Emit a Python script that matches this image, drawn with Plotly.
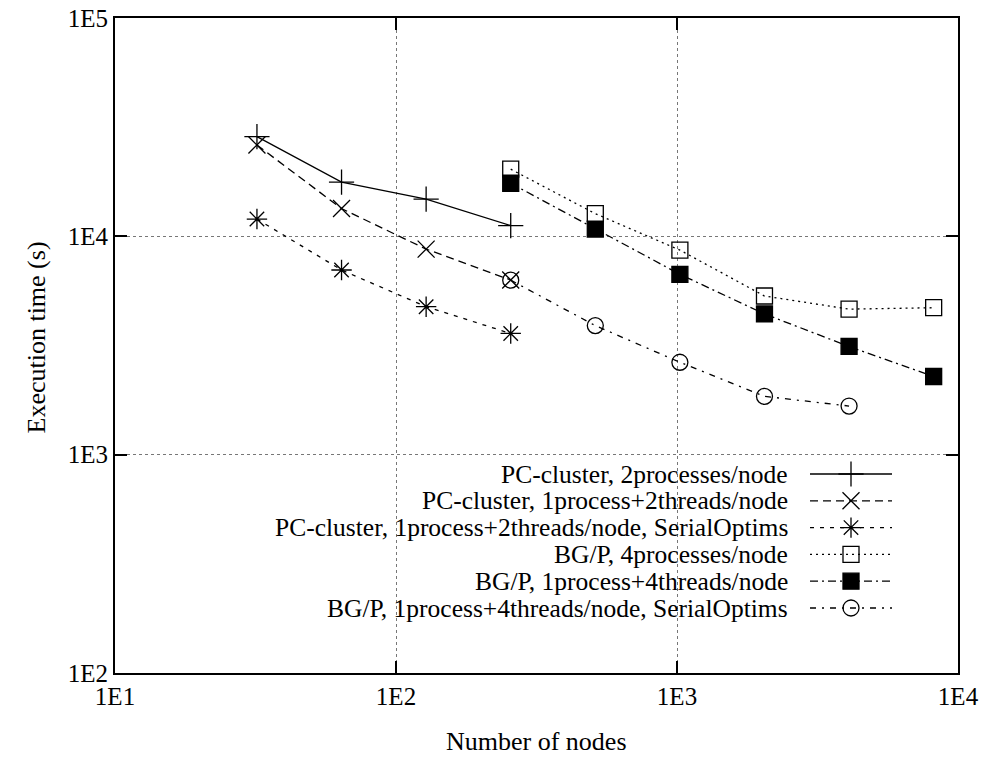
import plotly.graph_objects as go

# ---- data ----
pc_nodes = [32, 64, 128, 256]
bgp_nodes = [256, 512, 1024, 2048, 4096, 8192]
bgp_nodes_opt = [256, 512, 1024, 2048, 4096]

pc_2proc = [28600, 17700, 14800, 11200]
pc_1p2t = [26200, 13400, 8740, 6310]
pc_1p2t_opt = [12000, 7010, 4760, 3590]
bgp_4proc = [20300, 12700, 8650, 5330, 4640, 4710]
bgp_1p4t = [17500, 10800, 6700, 4410, 3130, 2280]
bgp_1p4t_opt = [6300, 3900, 2650, 1850, 1670]

series_names = [
    "PC-cluster, 2processes/node",
    "PC-cluster, 1process+2threads/node",
    "PC-cluster, 1process+2threads/node, SerialOptims",
    "BG/P, 4processes/node",
    "BG/P, 1process+4threads/node",
    "BG/P, 1process+4threads/node, SerialOptims",
]
xtick_vals = [10, 100, 1000, 10000]
xtick_text = ["1E1", "1E2", "1E3", "1E4"]
ytick_vals = [100, 1000, 10000, 100000]
ytick_text = ["1E2", "1E3", "1E4", "1E5"]
x_title = "Number of nodes"
y_title = "Execution time (s)"

# ---- styles ----
FONT = "'Liberation Serif', 'Times New Roman', Times, serif"
W, H = 984, 757
L, R, T, B = 115, 958, 18, 673
PW, PH = R - L, B - T

styles = [
    dict(dash="solid", symbol="cross-thin-open", size=18, fill="black"),
    dict(dash="8px,5px", symbol="x-thin-open", size=17, fill="black"),
    dict(dash="4px,6px", symbol="asterisk-open", size=17, fill="black"),
    dict(dash="2px,4px", symbol="square-open", size=16, fill="black"),
    dict(dash="8px,4px,2px,4px", symbol="square", size=16, fill="black"),
    dict(dash="6px,6px,2px,6px", symbol="circle-open", size=16, fill="black"),
]

data = [
    (pc_nodes, pc_2proc),
    (pc_nodes, pc_1p2t),
    (pc_nodes, pc_1p2t_opt),
    (bgp_nodes, bgp_4proc),
    (bgp_nodes, bgp_1p4t),
    (bgp_nodes_opt, bgp_1p4t_opt),
]

fig = go.Figure()
for (xs, ys), st, name in zip(data, styles, series_names):
    fig.add_trace(go.Scatter(
        x=xs, y=ys, mode="lines+markers", name=name, showlegend=False,
        line=dict(color="black", width=1.3, dash=st["dash"]),
        marker=dict(symbol=st["symbol"], size=st["size"], color=st["fill"],
                    line=dict(color="black", width=1.3)),
        xaxis="x", yaxis="y",
    ))


def px_to_paper_x(px):
    return (px - L) / PW


def px_to_paper_y(py):
    return (B - py) / PH


# ---- custom gnuplot-style legend on a pixel-unit overlay axis ----
row_y0, row_dy = 474, 26.8
text_right, samp_x0, samp_x1 = 790, 810, 892
annotations = []
for i, (st, name) in enumerate(zip(styles, series_names)):
    yy = row_y0 + i * row_dy
    fig.add_trace(go.Scatter(
        x=[samp_x0, samp_x1], y=[yy, yy], mode="lines", showlegend=False,
        line=dict(color="black", width=1.3, dash=st["dash"]),
        xaxis="x2", yaxis="y2", hoverinfo="skip",
    ))
    fig.add_trace(go.Scatter(
        x=[(samp_x0 + samp_x1) / 2], y=[yy], mode="markers", showlegend=False,
        marker=dict(symbol=st["symbol"], size=st["size"], color=st["fill"],
                    line=dict(color="black", width=1.3)),
        xaxis="x2", yaxis="y2", hoverinfo="skip",
    ))
    annotations.append(dict(
        x=px_to_paper_x(text_right), y=px_to_paper_y(yy), xref="paper", yref="paper",
        text=name, showarrow=False, xanchor="right", yanchor="middle",
        font=dict(family=FONT, size=25.5, color="black"),
    ))

# axis titles
annotations.append(dict(
    x=0.5, y=px_to_paper_y(741), xref="paper", yref="paper", text=x_title,
    showarrow=False, xanchor="center", yanchor="middle",
    font=dict(family=FONT, size=26, color="black"),
))
annotations.append(dict(
    x=px_to_paper_x(36), y=px_to_paper_y((T + B) / 2 - 8), xref="paper", yref="paper",
    text=y_title, showarrow=False, xanchor="center", yanchor="middle", textangle=-90,
    font=dict(family=FONT, size=26, color="black"),
))

axis_common = dict(
    type="log", showline=True, linecolor="black", linewidth=2, mirror="ticks",
    ticks="inside", ticklen=12, tickwidth=2, tickcolor="black",
    showgrid=True, gridcolor="#777777", gridwidth=1, griddash="dot",
    zeroline=False, tickfont=dict(family=FONT, size=25, color="black"),
    automargin=False, ticklabeloverflow="allow",
)

fig.update_layout(
    width=W, height=H,
    margin=dict(l=L, r=W - R, t=T, b=H - B),
    plot_bgcolor="white", paper_bgcolor="white",
    font=dict(family=FONT, color="black"),
    showlegend=False,
    xaxis=dict(axis_common, range=[1, 4], tickvals=xtick_vals, ticktext=xtick_text),
    yaxis=dict(axis_common, range=[2, 5], tickvals=ytick_vals, ticktext=ytick_text),
    xaxis2=dict(overlaying="x", range=[L, R], visible=False, anchor="y2"),
    yaxis2=dict(overlaying="y", range=[B, T], visible=False, anchor="x2"),
    annotations=annotations,
)

fig.write_html(
    "out.html",
    config={"displayModeBar": False},
    post_script="document.body.style.margin='0';document.body.style.overflow='hidden';",
)
